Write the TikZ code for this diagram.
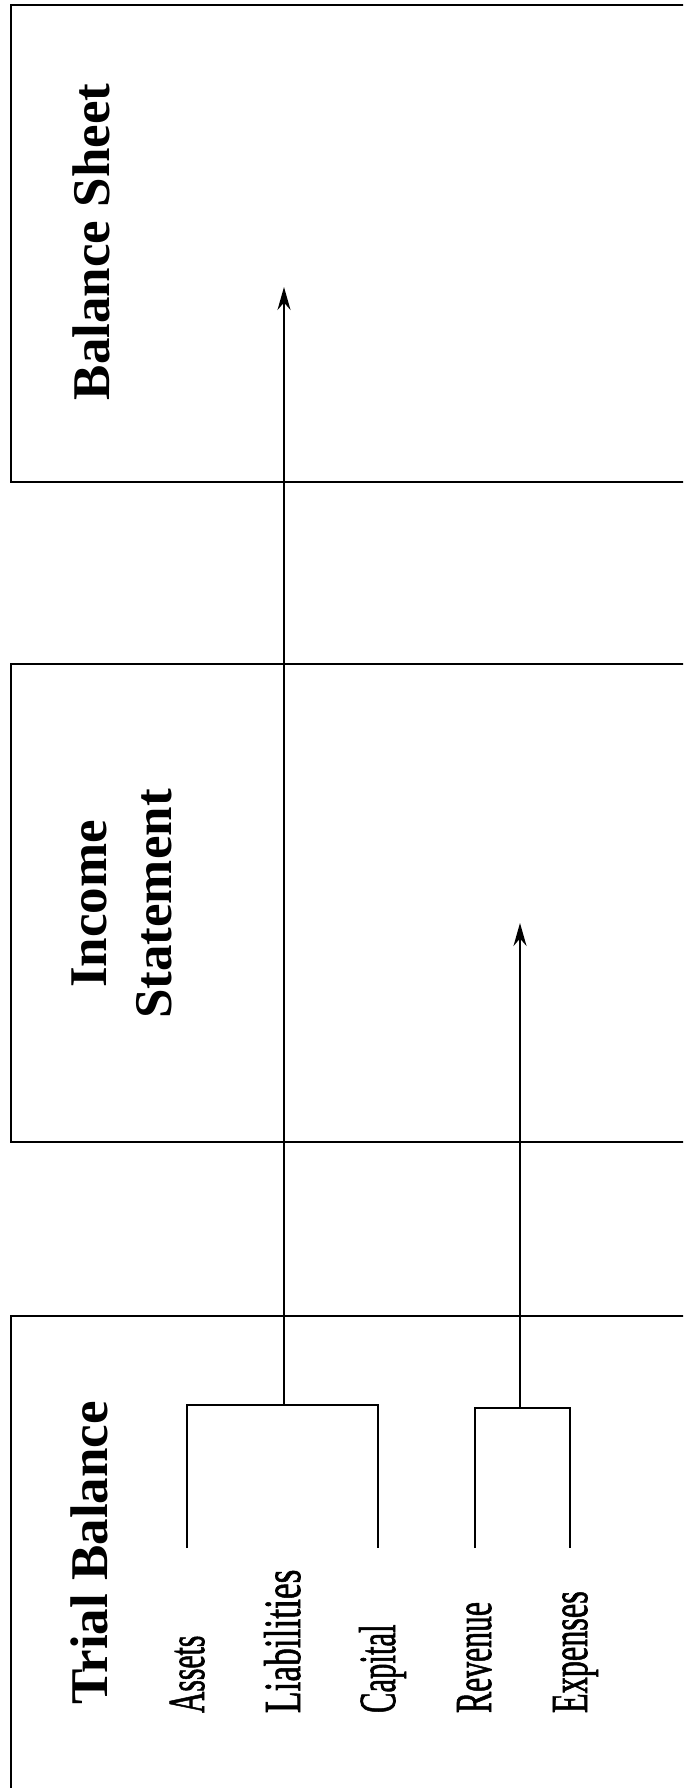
\documentclass[tikz,border=0pt]{standalone}
\usepackage{fontspec}
\setmainfont{Liberation Serif}
\newfontfamily\acctfont[FakeBold=1.5]{Liberation Serif}
\usetikzlibrary{arrows.meta}

\begin{document}
\begin{tikzpicture}[x=1pt, y=-1pt, line width=2pt,
  panel/.style={draw, line width=2.4pt, anchor=north west, inner sep=0pt, minimum width=700pt},
  title/.style={rotate=90, inner sep=0pt, font=\fontsize{53}{65}\selectfont\bfseries},
  item/.style={rotate=90, inner sep=0pt, anchor=base west, font=\fontsize{52}{60}\acctfont},
  flow/.style={-{Stealth[length=23pt, width=13pt]}}]
  \useasboundingbox (0,0) rectangle (683,1788);
  \clip (0,0) rectangle (683,1788);

  % statement panels (open to the right)
  \node[panel, minimum height=477pt] (bs) at (10,3.5) {};
  \node[panel, minimum height=478pt] (is) at (10,663) {};
  \node[panel, minimum height=500pt] (tb) at (10,1315) {};

  % titles
  \node[title, anchor=base] (bstitle) at (109,242) {Balance Sheet};
  \node[title, align=center] (istitle) at (122,904) {Income\\Statement};
  \node[title, anchor=base] (tbtitle) at (107,1553) {Trial Balance};

  % accounts in the trial balance
  \node[item] (assets) at (204,1714) {\scalebox{0.57}[1]{Assets}};
  \node[item] (liab) at (300,1714) {\scalebox{0.68}[1]{Liabilities}};
  \node[item] (capital) at (395,1714) {\scalebox{0.59}[1]{Capital}};
  \node[item] (revenue) at (491,1714) {\scalebox{0.61}[1]{Revenue}};
  \node[item] (expenses) at (587,1714) {\scalebox{0.62}[1]{Expenses}};

  % bracket ends and arrow ends
  \coordinate (legA) at (187,1548);
  \coordinate (legC) at (378,1548);
  \coordinate (legR) at (475,1548);
  \coordinate (legE) at (570,1548);
  \coordinate (joinbs) at (284,1405);
  \coordinate (joinis) at (520,1408);
  \coordinate (tipbs) at (284,287);
  \coordinate (tipis) at (520,923);

  % assets, liabilities, capital -> balance sheet
  \draw (legA) |- (joinbs) -| (legC);
  \draw[flow] (joinbs) -- (tipbs);
  % revenue, expenses -> income statement
  \draw (legR) |- (joinis) -| (legE);
  \draw[flow] (joinis) -- (tipis);
\end{tikzpicture}
\end{document}
